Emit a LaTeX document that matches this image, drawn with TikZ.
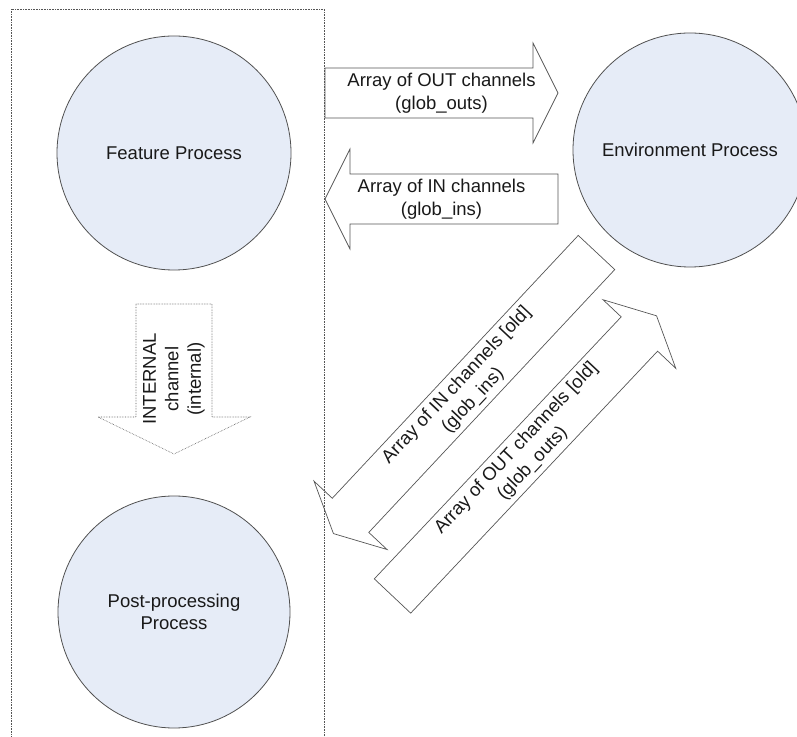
\documentclass[tikz,border=0pt]{standalone}
\usepackage{fontspec}
\setmainfont{Liberation Sans}
\begin{document}
\definecolor{procfill}{RGB}{230,236,247}
\definecolor{procline}{RGB}{80,80,80}
\definecolor{arrowline}{RGB}{85,85,85}
\definecolor{labeltext}{RGB}{25,25,25}
% block arrow: style, name of its centre, tail point, direction, shaft length,
% half shaft width, head length (the head is twice as wide as the shaft)
\newcommand\blockarrow[7]{%
  \begin{scope}[shift={#3}, rotate=#4]
    \draw[#1] (0,-#6) -- (#5,-#6) -- (#5,-2*#6) -- (#5+#7,0)
      -- (#5,2*#6) -- (#5,#6) -- (0,#6) -- cycle;
    \coordinate (#2) at ({(#5+#7)/2},0);
  \end{scope}}
\begin{tikzpicture}[x=1pt, y=1pt,
  process/.style={circle, draw=procline, line width=0.8pt, fill=procfill,
    minimum size=#1, inner sep=0pt, align=center, font=\lbl, text=labeltext},
  process/.default=234pt,
  solidarrow/.style={draw=arrowline, line width=0.7pt, line join=miter},
  dotarrow/.style={draw=arrowline, line width=0.6pt, densely dotted},
  lbl/.style={align=center, font=\lbl, text=labeltext, inner sep=0pt}]
\newcommand\lbl{\fontsize{18.5}{22.5}\selectfont}
\useasboundingbox (0,0) rectangle (797,736);

% dotted frame around the local processes (open at the bottom)
\draw[arrowline, line width=0.6pt, densely dotted]
  (11,-5) -- (11,727) -- (324,727) -- (324,-5);

% processes
\node[process] (feature) at (174,583) {Feature Process};
\node[process] (env) at (690,586) {Environment Process};
\node[process=232pt] (post) at (174,124) {Post-processing\\Process};

% channel arrays between feature and environment
\blockarrow{solidarrow}{outc}{(325,643)}{0}{208}{25}{25}
\node[lbl] (outlbl) at (outc) {Array of OUT channels\\(glob\_outs)};
\blockarrow{solidarrow}{inc}{(558,537)}{180}{208}{25}{25}
\node[lbl] (inlbl) at (inc) {Array of IN channels\\(glob\_ins)};

% internal channel from feature to post-processing
\blockarrow{dotarrow}{intc}{(174,432)}{-90}{113}{38}{37}
\node[lbl, rotate=90] (intlbl) at (intc) {INTERNAL\\channel\\(internal)};

% channel arrays between post-processing and environment
\blockarrow{solidarrow}{inoldc}{(596.5,483.5)}{226.9}{360}{25}{25}
\node[lbl, rotate=46.8] (inoldlbl) at (inoldc)
  {Array of IN channels [old]\\(glob\_ins)};
\blockarrow{solidarrow}{outoldc}{(392.5,140)}{46.7}{360}{25}{25}
\node[lbl, rotate=46.7] (outoldlbl) at (outoldc)
  {Array of OUT channels [old]\\(glob\_outs)};
\end{tikzpicture}
\end{document}
